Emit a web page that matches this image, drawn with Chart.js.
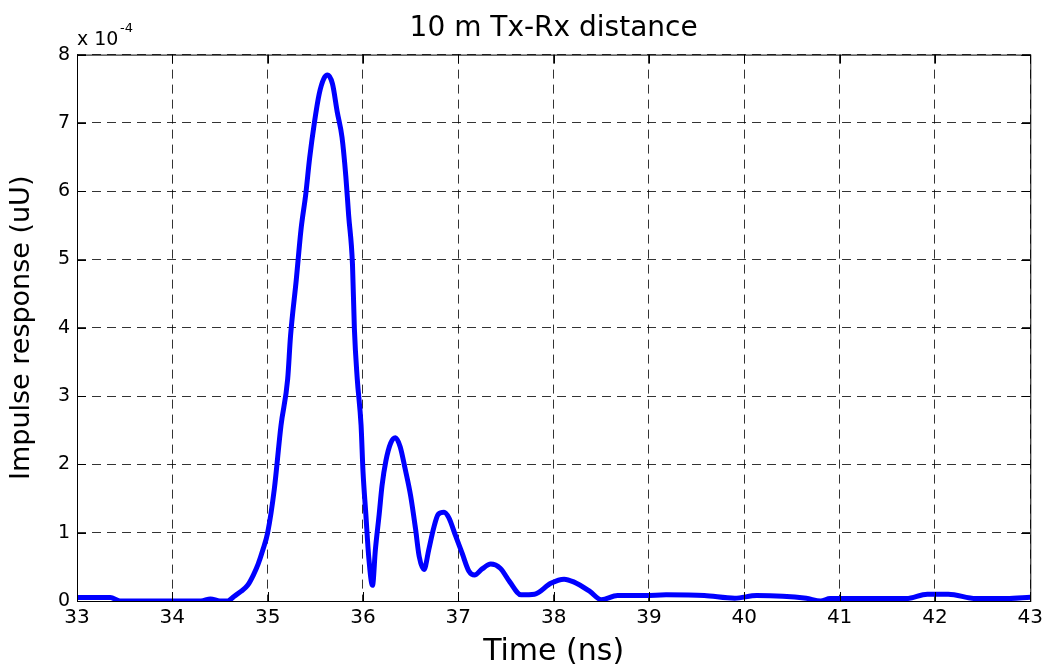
<!DOCTYPE html>
<html>
<head>
<meta charset="utf-8">
<script src="https://cdn.jsdelivr.net/npm/chart.js@4/dist/chart.umd.min.js"></script>
<style>
  html, body { margin: 0; padding: 0; background: #fff; }
  #wrap { width: 1048px; height: 664px; }
</style>
</head>
<body>
<div id="wrap"><canvas id="lineChart"></canvas></div>
<script>
// time axis (ns) and impulse response (x 1e-4 uU)
var timeNs = [33.0, 33.35, 33.45, 34.3, 34.4, 34.5, 34.58, 34.65, 34.72, 34.79, 34.85, 34.9, 34.95, 35.0,
  35.07, 35.14, 35.21, 35.24, 35.3, 35.35, 35.4, 35.44, 35.49, 35.54, 35.59, 35.63, 35.68, 35.73, 35.78,
  35.82, 35.85, 35.89, 35.91, 35.94, 35.98, 36.0, 36.03, 36.06, 36.1, 36.13, 36.17, 36.2, 36.24, 36.29,
  36.34, 36.39, 36.44, 36.5, 36.55, 36.59, 36.64, 36.69, 36.74, 36.79, 36.85, 36.9, 36.97, 37.04, 37.11,
  37.17, 37.25, 37.34, 37.44, 37.54, 37.66, 37.8, 37.97, 38.11, 38.21, 38.38, 38.5, 38.67, 38.96, 39.18,
  39.58, 39.9, 40.13, 40.65, 40.8, 40.9, 41.7, 41.92, 42.14, 42.43, 42.75, 43.0];
var response = [0.05, 0.05, 0.0, 0.0, 0.03, 0.0, 0.0, 0.07, 0.14, 0.23, 0.38, 0.54, 0.75, 1.0,
  1.64, 2.57, 3.25, 3.88, 4.7, 5.44, 5.96, 6.48, 7.0, 7.42, 7.65, 7.7, 7.57, 7.16, 6.79,
  6.22, 5.64, 4.92, 3.98, 3.25, 2.57, 1.9, 1.27, 0.65, 0.23, 0.75, 1.27, 1.69, 2.05, 2.31,
  2.39, 2.26, 1.95, 1.54, 1.07, 0.65, 0.46, 0.75, 1.06, 1.27, 1.3, 1.22, 0.96, 0.7, 0.44,
  0.38, 0.47, 0.54, 0.48, 0.28, 0.09, 0.1, 0.26, 0.32, 0.28, 0.14, 0.02, 0.08, 0.08, 0.09,
  0.08, 0.04, 0.08, 0.04, 0.0, 0.035, 0.035, 0.1, 0.1, 0.035, 0.035, 0.055];
var xTicks = [33, 34, 35, 36, 37, 38, 39, 40, 41, 42, 43];
var yTicks = [0, 1, 2, 3, 4, 5, 6, 7, 8];

var points = timeNs.map(function (t, i) { return { x: t, y: response[i] }; });
var fontFam = '"DejaVu Sans", Arial, sans-serif';

// box around the plot, inward ticks and the exponent label
var boxPlugin = {
  id: 'box',
  afterDraw: function (chart) {
    var c = chart.ctx, a = chart.chartArea;
    var xs = chart.scales.x, ys = chart.scales.y;
    c.save();
    c.strokeStyle = '#000';
    c.lineWidth = 1;
    c.strokeRect(a.left + 0.5, a.top + 0.5, a.right - a.left, a.bottom - a.top);
    c.beginPath();
    xTicks.forEach(function (v) {
      var px = Math.round(xs.getPixelForValue(v)) + 0.5;
      c.moveTo(px, a.bottom); c.lineTo(px, a.bottom - 9);
      c.moveTo(px, a.top); c.lineTo(px, a.top + 9);
    });
    yTicks.forEach(function (v) {
      var py = Math.round(ys.getPixelForValue(v)) + 0.5;
      c.moveTo(a.left, py); c.lineTo(a.left + 9, py);
      c.moveTo(a.right, py); c.lineTo(a.right - 9, py);
    });
    c.stroke();
    c.fillStyle = '#000';
    c.textBaseline = 'alphabetic';
    c.font = '19px ' + fontFam;
    c.fillText('x 10', a.left, 45);
    c.font = '13px ' + fontFam;
    c.fillText('-4', a.left + 43, 32);
    c.restore();
  }
};

var ctx = document.getElementById('lineChart').getContext('2d');
var myChart = new Chart(ctx, {
  type: 'line',
  data: {
    datasets: [{
      data: points,
      borderColor: '#0000ff',
      borderWidth: 5,
      pointRadius: 0,
      cubicInterpolationMode: 'monotone',
      fill: false
    }]
  },
  options: {
    responsive: true,
    maintainAspectRatio: false,
    animation: false,
    layout: { padding: { left: 0, right: 17, top: 0, bottom: 0 } },
    plugins: {
      legend: { display: false },
      tooltip: { enabled: false },
      title: {
        display: true,
        text: '10 m Tx-Rx distance',
        fullSize: false,
        color: '#000',
        font: { family: fontFam, size: 28, weight: 'normal' },
        padding: { top: 12, bottom: 9 }
      }
    },
    scales: {
      x: {
        type: 'linear',
        min: 33, max: 43,
        afterBuildTicks: function (s) { s.ticks = xTicks.map(function (v) { return { value: v }; }); },
        afterFit: function (s) { s.height = 63; },
        grid: { color: 'rgba(0,0,0,0.8)', drawTicks: false },
        border: { display: false, dash: [9, 6] },
        ticks: { color: '#000', padding: 5, maxRotation: 0, font: { family: fontFam, size: 20 } },
        title: {
          display: true, text: 'Time (ns)', color: '#000',
          font: { family: fontFam, size: 30 }, padding: { top: 0, bottom: -6 }
        }
      },
      y: {
        type: 'linear',
        min: 0, max: 8,
        afterBuildTicks: function (s) { s.ticks = yTicks.map(function (v) { return { value: v }; }); },
        afterFit: function (s) { s.width = 77; },
        grid: { color: 'rgba(0,0,0,0.8)', drawTicks: false },
        border: { display: false, dash: [9, 6] },
        ticks: { color: '#000', padding: 7, font: { family: fontFam, size: 19 } },
        title: {
          display: true, text: 'Impulse response (uU)', color: '#000',
          font: { family: fontFam, size: 27 }, padding: { top: 6, bottom: 0 }
        }
      }
    }
  },
  plugins: [boxPlugin]
});
</script>
</body>
</html>
